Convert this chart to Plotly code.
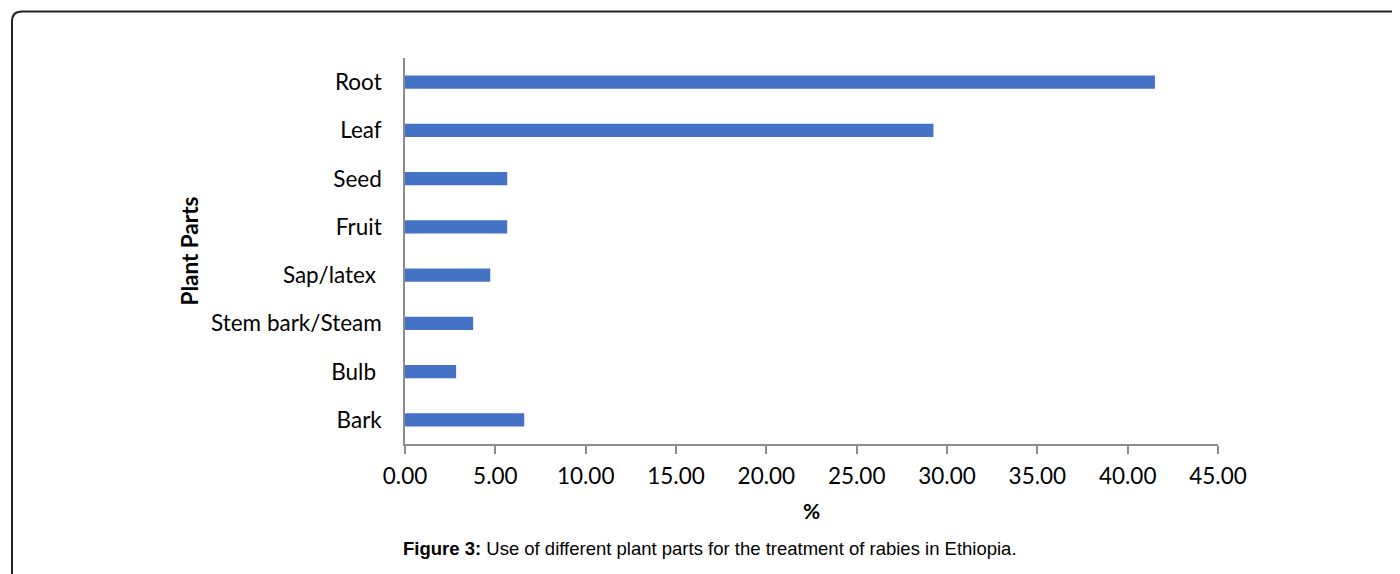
import plotly.graph_objects as go

categories = ["Bark", "Bulb\u00a0", "Stem bark/Steam", "Sap/latex\u00a0", "Fruit", "Seed", "Leaf", "Root"]
values = [6.60, 2.83, 3.77, 4.72, 5.66, 5.66, 29.25, 41.51]
x_ticks = [0, 5, 10, 15, 20, 25, 30, 35, 40, 45]
x_ticklabels = [f"{v:.2f}" for v in x_ticks]

# page has an 8px body margin; work in page pixels and convert
OFF = 8
W, H = 1400 - OFF, 574 - OFF
L, R, T, B = 405 - OFF, 1400 - 1218, 58 - OFF, 574 - 444
pw, ph = W - L - R, H - T - B

def px(x):
    return (x - OFF - L) / pw

def py(y):
    return (H - B - (y - OFF)) / ph

fig = go.Figure(go.Bar(
    x=values, y=categories, orientation="h",
    marker=dict(color="#4472C4", line=dict(width=0)),
    width=0.27,
))

tick_font = dict(family="Lato, Carlito, Calibri, sans-serif", size=22.5, color="#000000")

fig.update_layout(
    width=W, height=H,
    margin=dict(l=L, r=R, t=T, b=B, autoexpand=False),
    paper_bgcolor="white", plot_bgcolor="white",
    showlegend=False,
    xaxis=dict(
        range=[0, 45], tickvals=x_ticks, ticktext=x_ticklabels,
        showgrid=False, zeroline=False,
        showline=True, linecolor="#8c8c8c", linewidth=1.5,
        ticks="outside", ticklen=8, tickcolor="#8c8c8c", tickwidth=1.5,
        tickfont=tick_font, ticklabelstandoff=3,
        title=dict(text="<b>%</b>", font=dict(family="Lato, Carlito, sans-serif", size=21, color="#000"), standoff=17),
        fixedrange=True,
    ),
    yaxis=dict(
        categoryorder="array", categoryarray=categories,
        showgrid=False, zeroline=False,
        showline=True, linecolor="#8c8c8c", linewidth=1.5,
        ticks="", tickfont=tick_font, ticklabelstandoff=17,
        title=dict(text=""),
        fixedrange=True,
    ),
)

# y-axis title as annotation
fig.add_annotation(
    text="<b>Plant Parts</b>", textangle=-90,
    xref="paper", yref="paper", x=px(188.5), y=py(251),
    xanchor="center", yanchor="middle", showarrow=False,
    font=dict(family="Lato, Carlito, sans-serif", size=22.5, color="#000"),
)

# caption
fig.add_annotation(
    text="<b>Figure 3:</b> Use of different plant parts for the treatment of rabies in Ethiopia.",
    xref="paper", yref="paper", x=px(401), y=py(548),
    xanchor="left", yanchor="middle", showarrow=False,
    font=dict(family="Liberation Sans, Arial, sans-serif", size=18.5, color="#000"),
)

# rounded frame
lx, ty = px(12), py(11.5)
rx, by = px(1420), py(600)
rxr, ryr = 10 / pw, 10 / ph
path = (f"M {lx},{by} L {lx},{ty - ryr} Q {lx},{ty} {lx + rxr},{ty} L {rx},{ty}")
fig.add_shape(type="path", path=path, xref="paper", yref="paper",
              line=dict(color="#222222", width=2))

fig.write_html("out.html")
